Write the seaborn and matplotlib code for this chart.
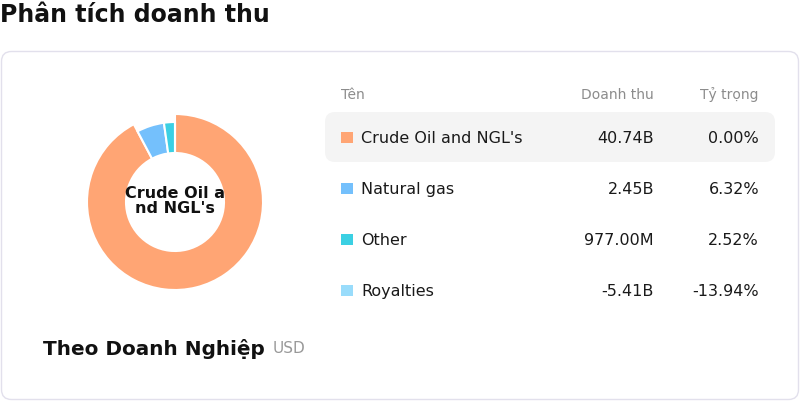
import matplotlib
matplotlib.use("Agg")
import matplotlib.pyplot as plt
from matplotlib.patches import FancyBboxPatch, Rectangle
import seaborn as sns

# du lieu doc tu hinh
ten = ["Crude Oil and NGL's", "Natural gas", "Other", "Royalties"]
doanh_thu = [40.74e9, 2.45e9, 977.00e6, -5.41e9]
doanh_thu_nhan = ["40.74B", "2.45B", "977.00M", "-5.41B"]
ty_trong_nhan = ["0.00%", "6.32%", "2.52%", "-13.94%"]
mau = ["#ffa574", "#74c0fc", "#3bd0e3", "#99dcfb"]

sns.set_theme(style="white")
plt.rcParams["font.family"] = ["DejaVu Sans"]
palette = sns.color_palette(mau)

W, H = 800, 402
fig = plt.figure(figsize=(W / 100, H / 100), dpi=100)
fig.patch.set_facecolor("white")

# truc nen theo pixel
nen = fig.add_axes([0, 0, 1, 1])
nen.set_xlim(0, W)
nen.set_ylim(H, 0)
nen.axis("off")

nen.text(0, 15, "Phân tích doanh thu", fontsize=17, fontweight="bold",
         va="center", ha="left", color="#111111")

the = FancyBboxPatch((1.5, 52.5), 797, 348, boxstyle="round,pad=0,rounding_size=10",
                     facecolor="white", edgecolor="#e2e0ec", linewidth=1)
nen.add_patch(the)

# bang
nen.text(341, 95, "Tên", fontsize=10, color="#8c8c8c", va="center", ha="left")
nen.text(654, 95, "Doanh thu", fontsize=10, color="#8c8c8c", va="center", ha="right")
nen.text(759, 95, "Tỷ trọng", fontsize=10, color="#8c8c8c", va="center", ha="right")

nen.add_patch(FancyBboxPatch((325, 113), 450, 50, boxstyle="round,pad=0,rounding_size=10",
                             facecolor="#f4f4f4", edgecolor="none"))

for i, (t, dt, tt) in enumerate(zip(ten, doanh_thu_nhan, ty_trong_nhan)):
    y = 138.5 + i * 51
    nen.add_patch(Rectangle((341, y - 6), 11.5, 11.5, facecolor=palette[i], edgecolor="none"))
    nen.text(361, y, t, fontsize=11.5, color="#1a1a1a", va="center", ha="left")
    nen.text(654, y, dt, fontsize=11.5, color="#1a1a1a", va="center", ha="right")
    nen.text(759, y, tt, fontsize=11.5, color="#1a1a1a", va="center", ha="right")

nen.text(43, 349, "Theo Doanh Nghiệp", fontsize=14.4, fontweight="bold",
         color="#111111", va="center", ha="left")
nen.text(273, 349, "USD", fontsize=11, color="#999999", va="center", ha="left")

# donut
cx, cy, s = 175, 203, 200
pie_ax = fig.add_axes([(cx - s / 2) / W, (H - cy - s / 2) / H, s / W, s / H])
pie_ax.set_xlim(-1, 1)
pie_ax.set_ylim(-1, 1)
pie_ax.set_aspect("equal")
pie_ax.axis("off")

gia_tri = [max(v, 0) for v in doanh_thu]
wedges, _ = pie_ax.pie(gia_tri, colors=palette, startangle=90, counterclock=False,
                       radius=0.80, wedgeprops=dict(width=0.31, edgecolor="white", linewidth=1.5))
# lat cat lon nhat (dang duoc chon)
wedges[0].set_radius(0.88)
wedges[0].set_width(0.39)
pie_ax.set_xlim(-1, 1)
pie_ax.set_ylim(-1, 1)

pie_ax.text(0, 0.02, "Crude Oil a\nnd NGL's", fontsize=11.5, fontweight="bold",
            ha="center", va="center", color="#111111", linespacing=1.0)

fig.savefig("out.png", dpi=100, facecolor="white")
